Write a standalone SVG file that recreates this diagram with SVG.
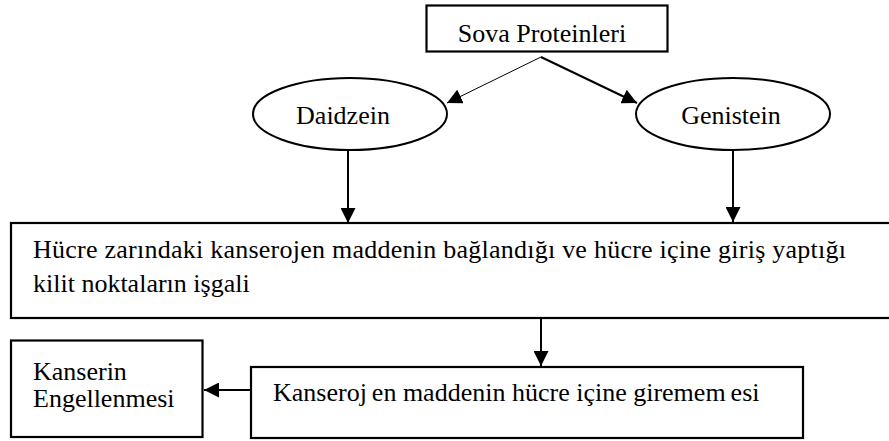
<svg xmlns="http://www.w3.org/2000/svg" width="889" height="441" viewBox="0 0 889 441">
<defs>
<marker id="ah" markerUnits="userSpaceOnUse" markerWidth="16" markerHeight="15" refX="15" refY="7.5" orient="auto" viewBox="0 0 16 15">
<path d="M0,0 L15,7.5 L0,15 z" fill="#000"/>
</marker>
</defs>
<style>
.box{fill:#fff;stroke:#000;stroke-width:2.2}
.ell{fill:#fff;stroke:#000;stroke-width:2}
.t{font-family:"Liberation Serif","Times New Roman",serif;font-size:26px;fill:#000}
.c{stroke:#000;stroke-width:2;fill:none;marker-end:url(#ah)}
</style>
<rect width="889" height="441" fill="#fff"/>
<g id="connectors">
<line class="c" x1="541" y1="57" x2="447" y2="103" style="stroke-width:1"/>
<line class="c" x1="541" y1="57" x2="637" y2="103"/>
<line class="c" x1="348" y1="150" x2="348" y2="223"/>
<line class="c" x1="733" y1="150" x2="733" y2="222"/>
<line class="c" x1="541" y1="318" x2="541" y2="366"/>
<line class="c" x1="251" y1="390" x2="204" y2="390"/>
</g>
<g id="soya">
<rect class="box" x="426.5" y="5.5" width="241" height="46"/>
<text class="t" x="542" y="42" text-anchor="middle">Sova Proteinleri</text>
</g>
<g id="daidzein">
<ellipse class="ell" cx="350" cy="114" rx="97" ry="36"/>
<text class="t" x="343" y="124" text-anchor="middle">Daidzein</text>
</g>
<g id="genistein">
<ellipse class="ell" cx="733" cy="114" rx="97" ry="36"/>
<text class="t" x="731" y="124" text-anchor="middle">Genistein</text>
</g>
<g id="isgal">
<rect class="box" x="11" y="223" width="890" height="95"/>
<text class="t" x="33" y="258" textLength="813" lengthAdjust="spacing">Hücre zarındaki kanserojen maddenin bağlandığı ve hücre içine giriş yaptığı</text>
<text class="t" x="33" y="292">kilit noktaların işgali</text>
</g>
<g id="girememe">
<rect class="box" x="251" y="367" width="552" height="71"/>
<text class="t" x="273" y="401">Kanseroj<tspan dx="5">en maddenin hücre içine giremem</tspan><tspan dx="5">esi</tspan></text>
</g>
<g id="engelleme">
<rect class="box" x="11" y="340.5" width="191.5" height="96.5"/>
<text class="t" x="33" y="380">Kanserin</text>
<text class="t" x="33" y="407">Engellenmesi</text>
</g>
</svg>
